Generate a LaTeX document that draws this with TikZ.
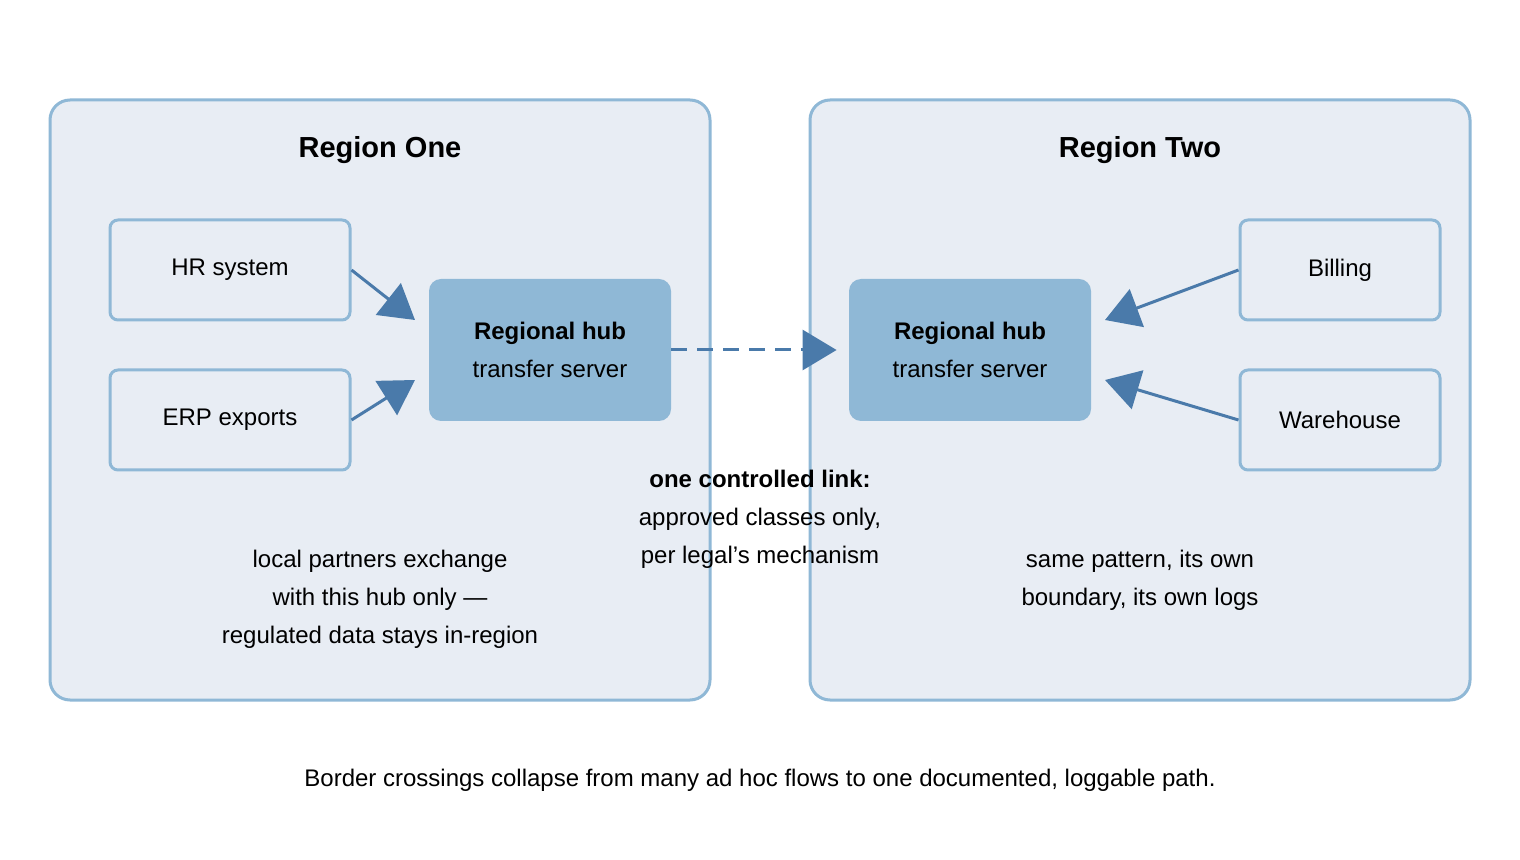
\documentclass[tikz,border=0pt]{standalone}
\usepackage{fontspec}
\setmainfont{Liberation Sans}
\usetikzlibrary{arrows.meta}
\definecolor{regfill}{HTML}{E8EDF4}
\definecolor{regline}{HTML}{8FB8D6}
\definecolor{hubfill}{HTML}{8FB8D6}
\definecolor{arr}{HTML}{4A7AAA}
\begin{document}
\begin{tikzpicture}[x=0.5pt,y=-0.5pt,
  region/.style={draw=regline,fill=regfill,line width=1.5pt,rounded corners=10pt},
  sys/.style={draw=regline,fill=regfill,line width=1.5pt,rounded corners=4pt,minimum width=120pt,minimum height=50pt,font=\fontsize{12}{14}\selectfont},
  hub/.style={fill=hubfill,rounded corners=6pt,minimum width=121pt,minimum height=71pt,align=center,font=\fontsize{12}{19}\selectfont},
  txt/.style={align=center,font=\fontsize{12}{19}\selectfont},
  flow/.style={draw=arr,line width=1.5pt,-{Triangle[length=17pt,width=20pt]}}]
\useasboundingbox (0,0) rectangle (1520,860);
\fill[white] (0,0) rectangle (1520,860);
\draw[region] (50,100) rectangle (710,700);
\draw[region] (810,100) rectangle (1470,700);
\node[font=\bfseries\fontsize{14.5}{17}\selectfont] (t1) at (380,150) {Region One};
\node[font=\bfseries\fontsize{14.5}{17}\selectfont] (t2) at (1140,150) {Region Two};
\node[sys] (hr) at (230,270) {HR system};
\node[sys] (erp) at (230,420) {ERP exports};
\node[sys,minimum width=100pt] (bill) at (1340,270) {Billing};
\node[sys,minimum width=100pt] (wh) at (1340,420) {Warehouse};
\node[hub] (h1) at (550,350) {\textbf{Regional hub}\\transfer server};
\node[hub] (h2) at (970,350) {\textbf{Regional hub}\\transfer server};
\coordinate (a1) at (415,320);
\coordinate (a2) at (415,380);
\coordinate (b1) at (1105,320);
\coordinate (b2) at (1105,380);
\draw[flow] (hr.east) -- (a1);
\draw[flow] (erp.east) -- (a2);
\draw[flow] (bill.west) -- (b1);
\draw[flow] (wh.west) -- (b2);
\draw[flow,dash pattern=on 8pt off 5pt] (h1.east) -- ([xshift=-6pt]h2.west);
\node[txt] (lk) at (760,519) {\textbf{one controlled link:}\\approved classes only,\\per legal's mechanism};
\node[txt] (l1) at (380,599) {local partners exchange\\with this hub only —\\regulated data stays in-region};
\node[txt] (l2) at (1140,580) {same pattern, its own\\boundary, its own logs};
\node[txt] (cap) at (760,780) {Border crossings collapse from many ad hoc flows to one documented, loggable path.};
\end{tikzpicture}
\end{document}
